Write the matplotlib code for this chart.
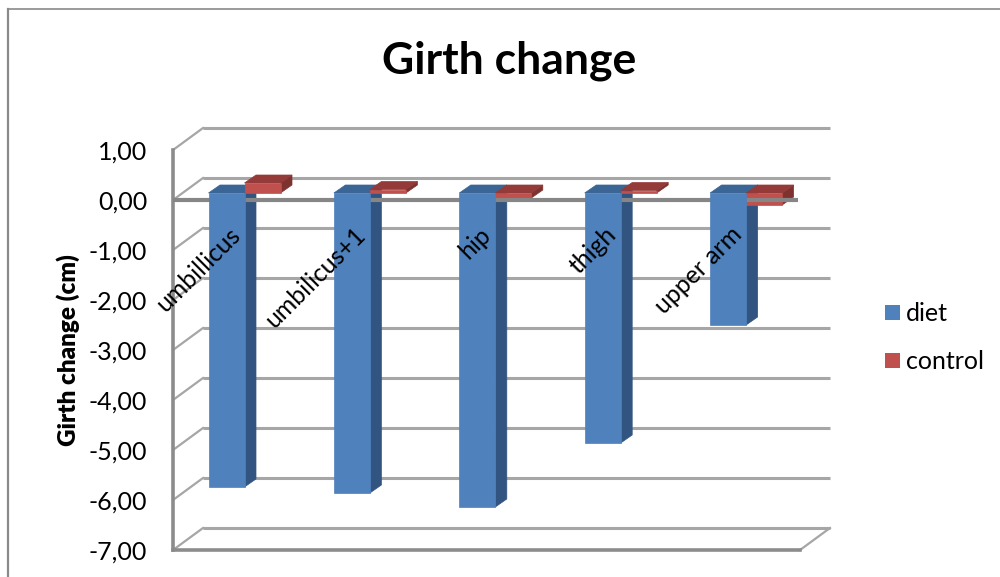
import matplotlib
matplotlib.use("Agg")
import matplotlib.pyplot as plt
from matplotlib.patches import Polygon, Rectangle
from matplotlib.lines import Line2D

categories = ["umbillicus", "umbilicus+1", "hip", "thigh", "upper arm"]
diet = [-5.88, -6.00, -6.28, -5.00, -2.64]
control = [0.20, 0.07, -0.10, 0.05, -0.24]
y_ticks = [1, 0, -1, -2, -3, -4, -5, -6, -7]
y_labels = ["1,00", "0,00", "-1,00", "-2,00", "-3,00", "-4,00", "-5,00", "-6,00", "-7,00"]
series_names = ["diet", "control"]

W, H = 1000, 577
plt.rcParams["font.family"] = ["Lato", "DejaVu Sans"]
fig = plt.figure(figsize=(W / 100, H / 100), dpi=100, facecolor="white")

# Plot area: x 173..800 px, y 150..550 px
ax = fig.add_axes([173 / W, 1 - 550 / H, 627 / W, 400 / H])
ax.set_xlim(-0.5, 4.5)
ax.set_ylim(-7, 1)
ax.axis("off")
PX = 627 / 5      # pixels per category
PY = 50           # pixels per value unit


def off(x, y, dx, dy):
    """Shift a data point by a pixel offset (up = +dy)."""
    return (x + dx / PX, y + dy / PY)


def poly(pts, color, z, edge=None):
    ax.add_patch(Polygon(pts, closed=True, facecolor=color, edgecolor=edge or color,
                         linewidth=0.5, zorder=z, clip_on=False))


GRID = "#a6a6a6"
WALL = 30
WALLY = 22
x0, x1 = -0.5, 4.5
for t in y_ticks:
    a = off(x0, t, WALL, WALLY)
    b = off(x1, t, WALL, WALLY)
    ax.plot([a[0], b[0]], [a[1], b[1]], color=GRID, lw=2.2, zorder=1, clip_on=False,
            solid_capstyle="butt")
    ax.plot([x0, a[0]], [t, a[1]], color=GRID, lw=1.6, zorder=1, clip_on=False)
# floor right edge
a = off(x1, -7, WALL, WALLY)
ax.plot([x1, a[0]], [-7, a[1]], color=GRID, lw=1.6, zorder=1, clip_on=False)
# front axes
ax.plot([x0, x0], [-7, 1], color="#8c8c8c", lw=2.6, zorder=2, clip_on=False)
ax.plot([x0, x1], [-7, -7], color="#8c8c8c", lw=2.6, zorder=2, clip_on=False)

BW = 36 / PX
DX, DY = 11.5, 8
SHIFT_X, SHIFT_Y = 9, 7
BLUE = ("#4f81bd", "#3a6595", "#325480")
RED = ("#c0504d", "#943a38", "#7e3230")


def bar(cat, left_px, value, cols, z_back, z_front):
    xl = cat + left_px / PX
    xr = xl + BW
    top, bot = max(value, 0), min(value, 0)
    s = lambda x, y, d=0, e=0: off(x, y, SHIFT_X + d, SHIFT_Y + e)
    poly([s(xr, top), s(xr, bot), s(xr, bot, DX, DY), s(xr, top, DX, DY)], cols[2], z_back)
    poly([s(xl, top), s(xr, top), s(xr, top, DX, DY), s(xl, top, DX, DY)], cols[1], z_back + 0.1)
    poly([s(xl, top), s(xr, top), s(xr, bot), s(xl, bot)], cols[0], z_front)


# Layering: blue side and top, then red, then the zero line, then the blue front face
ax.plot([x0, x1 - 2 / PX], [0, 0], color="#868686", lw=3, zorder=6, clip_on=False,
        solid_capstyle="butt")

for i, (d, c) in enumerate(zip(diet, control)):
    bar(i, -36.2, d, BLUE, 4, 7)
    bar(i, -0.2, c, RED, 5, 5.2)

# Category labels, rotated, ending near the zero line
for i, name in enumerate(categories):
    ax.annotate(name, xy=(i, -0.55), xytext=(0.5, -2.5), textcoords="offset points",
                rotation=45, rotation_mode="anchor", ha="right", va="center",
                fontsize=17.8, color="black", zorder=20, annotation_clip=False)

# Value axis labels
for t, lab in zip(y_ticks, y_labels):
    ax.annotate(lab, xy=(x0, t), xytext=(-18.5, -1.5), textcoords="offset points",
                xycoords="data", ha="right", va="center", fontsize=18, annotation_clip=False)

fig.text(509 / W, 1 - 61 / H, "Girth change", ha="center", va="center", fontsize=32,
         fontweight="bold")
fig.text(68 / W, 1 - 350 / H, "Girth change (cm)", rotation=90, ha="center", va="center",
         fontsize=17.5, fontweight="heavy")

# Legend
for name, col, yy in zip(series_names, [BLUE[0], RED[0]], [313, 361]):
    fig.add_artist(Rectangle((885 / W, 1 - (yy + 7) / H), 15 / W, 15 / H, facecolor=col,
                             edgecolor="none", transform=fig.transFigure))
    fig.text(906 / W, 1 - (yy + 0.5) / H, name, ha="left", va="center", fontsize=18)

# Chart frame
frame = "#8a8a8a"
fig.add_artist(Line2D([7.5 / W, 7.5 / W], [0, 1 - 8.5 / H], color=frame, lw=1.6, transform=fig.transFigure))
fig.add_artist(Line2D([7.5 / W, 1], [1 - 8.5 / H, 1 - 8.5 / H], color=frame, lw=1.2, transform=fig.transFigure))

fig.savefig("out.png", dpi=100)
